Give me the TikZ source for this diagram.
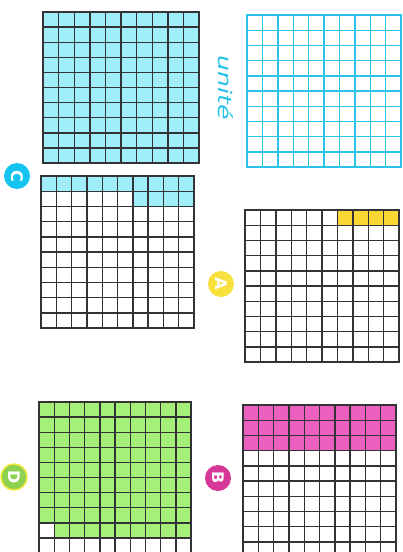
\documentclass[tikz,border=0pt]{standalone}
\usepackage{graphicx}
\usepackage{fontspec}
\newfontfamily\labfont{DejaVu Sans}
\definecolor{gridline}{RGB}{50,50,55}
\definecolor{cyanline}{RGB}{40,195,230}
\definecolor{cyanfill}{RGB}{160,238,250}
\definecolor{yellowfill}{RGB}{250,215,50}
\definecolor{greenfill}{RGB}{165,240,120}
\definecolor{pinkfill}{RGB}{235,95,190}
\definecolor{circC}{RGB}{20,195,240}
\definecolor{circA}{RGB}{248,225,60}
\definecolor{circD}{RGB}{140,210,80}
\definecolor{ringD}{RGB}{240,232,60}
\definecolor{circB}{RGB}{215,55,150}
\newcommand{\turndown}[1]{\rotatebox{-90}{#1}}
\newcommand{\tengrid}{%
  \foreach \k in {0,...,10} {\draw (\k,0) -- (\k,10); \draw (0,\k) -- (10,\k);}}
\tikzset{
  gridlines/.style={draw=gridline, line width=1.4pt, line cap=rect},
  unitlines/.style={draw=cyanline, line width=1.4pt, line cap=rect},
  badge/.style={circle, minimum size=26pt, inner sep=0pt, text=white,
    font=\labfont\bfseries\fontsize{16}{16}\selectfont},
  unitlabel/.style={text=cyanline, inner sep=0pt,
    font=\labfont\itshape\fontsize{22}{22}\selectfont}
}
\begin{document}
\begin{tikzpicture}[x=1pt,y=-1pt]
\clip (0,0) rectangle (402,552);
\fill[white] (0,0) rectangle (402,552);
% C top: full cyan
\begin{scope}[shift={(43,12)}, x=15.6pt, y=-15.1pt]
  \fill[cyanfill] (0,0) rectangle (10,10);
  \begin{scope}[gridlines]\tengrid\end{scope}
\end{scope}
% unite grid
\begin{scope}[shift={(247,15)}, x=15.4pt, y=-15.2pt]
  \begin{scope}[unitlines]\tengrid\end{scope}
\end{scope}
% C bottom
\begin{scope}[shift={(41,176)}, x=15.3pt, y=-15.2pt]
  \fill[cyanfill] (0,0) rectangle (10,1);
  \fill[cyanfill] (6,1) rectangle (10,2);
  \begin{scope}[gridlines]\tengrid\end{scope}
\end{scope}
% A
\begin{scope}[shift={(245,210)}, x=15.4pt, y=-15.2pt]
  \fill[yellowfill] (6,0) rectangle (10,1);
  \begin{scope}[gridlines]\tengrid\end{scope}
\end{scope}
% D
\begin{scope}[shift={(39,402)}, x=15.2pt, y=-15.1pt]
  \fill[greenfill] (0,0) rectangle (10,8);
  \fill[greenfill] (1,8) rectangle (10,9);
  \begin{scope}[gridlines]\tengrid\end{scope}
\end{scope}
% B
\begin{scope}[shift={(243,405)}, x=15.3pt, y=-15.2pt]
  \fill[pinkfill] (0,0) rectangle (10,3);
  \begin{scope}[gridlines]\tengrid\end{scope}
\end{scope}
% labels
\node[unitlabel] (unite) at (226,88) {\turndown{\scalebox{1.15}[0.85]{unité}}};
\node[badge, fill=circC] (labC) at (17,176) {\turndown{C}};
\node[badge, fill=circA] (labA) at (221,284) {\turndown{A}};
\node[badge, fill=circD, draw=ringD, line width=1.5pt] (labD) at (14,477) {\turndown{D}};
\node[badge, fill=circB] (labB) at (218,478) {\turndown{B}};
\end{tikzpicture}
\end{document}
